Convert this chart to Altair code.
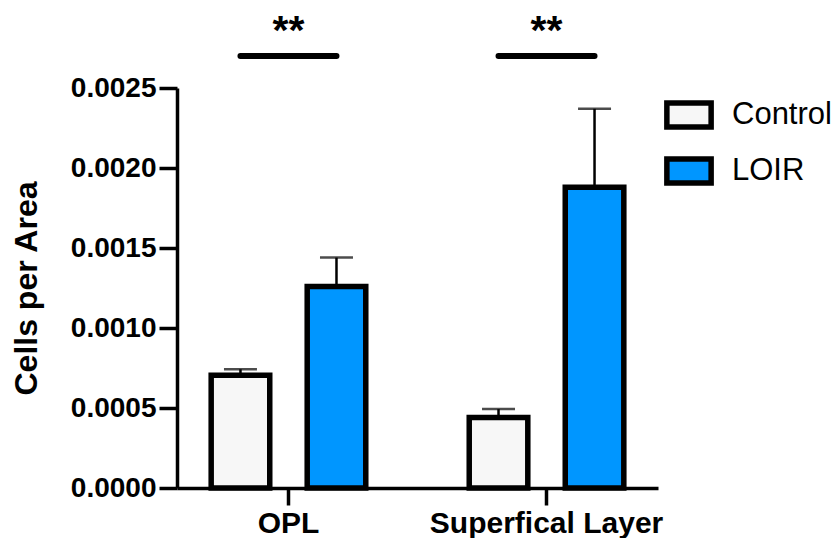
import altair as alt
import pandas as pd

groups = ["OPL", "OPL", "Superfical Layer", "Superfical Layer"]
conditions = ["Control", "LOIR", "Control", "LOIR"]
means = [0.000705, 0.00126, 0.00044, 0.00188]
errors = [0.000037, 0.00018, 0.000053, 0.00049]

sig_groups = ["OPL", "OPL", "Superfical Layer", "Superfical Layer"]
sig_conditions = ["Control", "LOIR", "Control", "LOIR"]
sig_line_y = 0.0027
sig_text_y = 0.00285
sig_labels = ["**", "**"]
sig_label_groups = ["OPL", "Superfical Layer"]

cond_order = ["Control", "LOIR"]
cond_colors = ["#f7f7f7", "#0096ff"]
group_order = ["OPL", "Superfical Layer"]

df = pd.DataFrame({"group": groups, "cond": conditions, "mean": means, "err": errors})
df["upper"] = df["mean"] + df["err"]

sig_df = pd.DataFrame({"group": sig_groups, "cond": sig_conditions, "y": [sig_line_y] * 4})
sig_txt = pd.DataFrame({"group": sig_label_groups, "label": sig_labels, "y": [sig_text_y] * 2})

FONT = "Liberation Sans"

x_enc = alt.X("group:N", sort=group_order, title=None,
              scale=alt.Scale(paddingInner=0.2, paddingOuter=0.032),
              axis=alt.Axis(labelAngle=0, labelFontSize=30, labelFontWeight="bold",
                            labelFont=FONT, labelColor="black", labelPadding=18,
                            labelLimit=0, labelAlign="center", bandPosition=0.5,
                            tickSize=17, tickWidth=3.5, tickColor="black",
                            domainColor="black", domainWidth=3.5))
xoff_enc = alt.XOffset("cond:N", sort=cond_order,
                       scale=alt.Scale(paddingInner=0.39, paddingOuter=0.27))
y_scale = alt.Scale(domain=[0, 0.0025], nice=False)

bars = alt.Chart(df).mark_bar(stroke="black", strokeWidth=5.5, strokeJoin="miter").encode(
    x=x_enc,
    xOffset=xoff_enc,
    y=alt.Y("mean:Q", scale=y_scale, title="Cells per Area",
            axis=alt.Axis(values=[0, 0.0005, 0.001, 0.0015, 0.002, 0.0025], format=".4f",
                          labelFontSize=28, labelFontWeight="bold", labelFont=FONT,
                          labelColor="black", labelPadding=3, tickSize=18, tickWidth=3.5,
                          tickColor="black", domainColor="black", domainWidth=3.5,
                          grid=False, titleFontSize=32, titleFont=FONT,
                          titleFontWeight="bold", titleColor="black", titlePadding=27)),
    fill=alt.Fill("cond:N", sort=cond_order,
                  scale=alt.Scale(domain=cond_order, range=cond_colors),
                  legend=alt.Legend(title=None, orient="none", legendX=487, legendY=2,
                                    symbolType="M-1,-0.54H1V0.54H-1Z", symbolSize=1960,
                                    symbolStrokeColor="black", symbolStrokeWidth=5.5,
                                    labelFont=FONT, labelFontSize=31, labelColor="black",
                                    labelOffset=18, rowPadding=8, padding=0)),
)

err_rule = alt.Chart(df).mark_rule(color="black", strokeWidth=2.5).encode(
    x=alt.X("group:N", sort=group_order),
    xOffset=alt.XOffset("cond:N", sort=cond_order),
    y=alt.Y("mean:Q"),
    y2="upper:Q",
)
err_cap = alt.Chart(df).mark_tick(color="black", thickness=2.5, size=33).encode(
    x=alt.X("group:N", sort=group_order),
    xOffset=alt.XOffset("cond:N", sort=cond_order),
    y=alt.Y("upper:Q"),
)

sig_line = alt.Chart(sig_df).mark_line(color="black", strokeWidth=6, strokeCap="round", clip=False).encode(
    x=alt.X("group:N", sort=group_order),
    xOffset=alt.XOffset("cond:N", sort=cond_order),
    y=alt.Y("y:Q"),
    detail="group:N",
)
sig_text = alt.Chart(sig_txt).mark_text(fontSize=41, fontWeight="bold", font=FONT,
                                        color="black", baseline="middle", clip=False).encode(
    x=alt.X("group:N", sort=group_order),
    y=alt.Y("y:Q"),
    text="label:N",
)

chart = alt.layer(err_rule, err_cap, bars, sig_line, sig_text).properties(
    width=481, height=400, background="white",
    padding={"left": 2, "top": 2, "right": 0, "bottom": 0}
).configure_view(stroke=None)

chart.save("out.html", embed_options={"renderer": "svg", "actions": False})
